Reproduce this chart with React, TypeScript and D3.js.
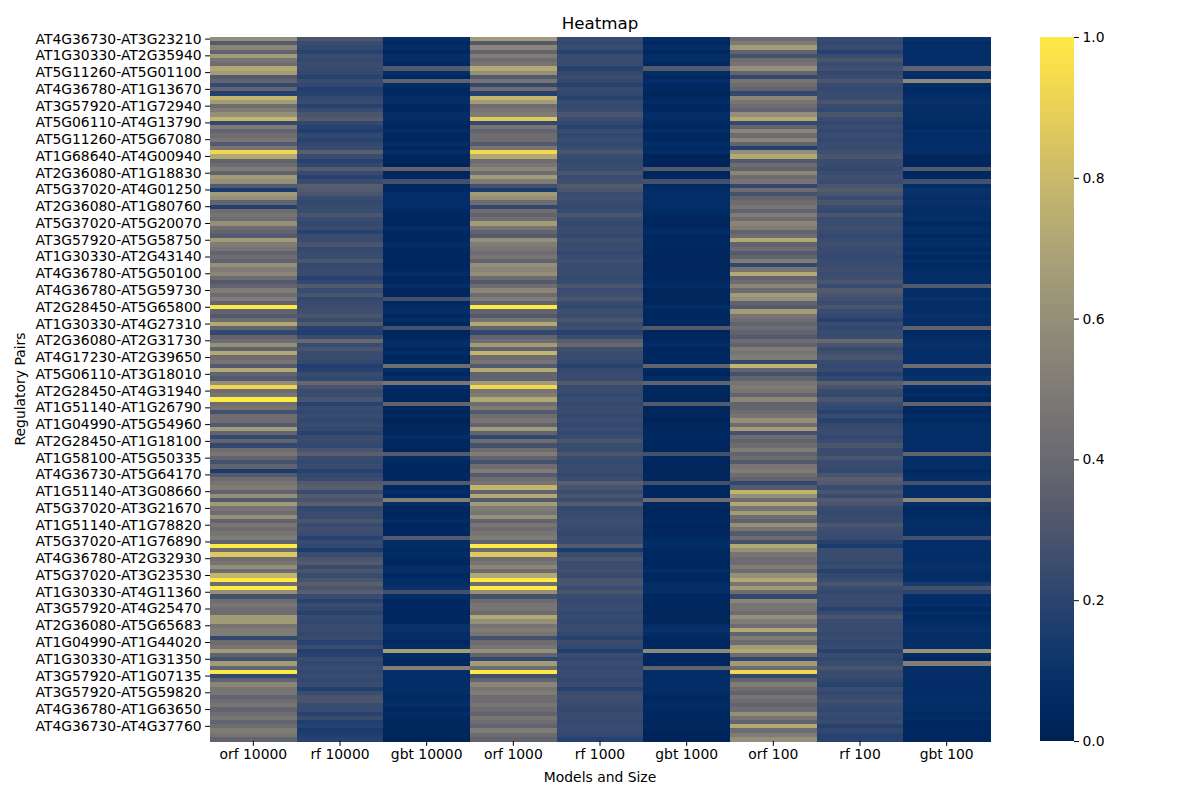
import React, { useEffect, useRef } from "react";
import * as d3 from "d3";

// column names (models and sample size)
const models = ["orf 10000", "rf 10000", "gbt 10000", "orf 1000", "rf 1000", "gbt 1000", "orf 100", "rf 100", "gbt 100"];

// every 4th row carries a label
const pairLabels = [
  "AT4G36730-AT3G23210", "AT1G30330-AT2G35940", "AT5G11260-AT5G01100", "AT4G36780-AT1G13670",
  "AT3G57920-AT1G72940", "AT5G06110-AT4G13790", "AT5G11260-AT5G67080", "AT1G68640-AT4G00940",
  "AT2G36080-AT1G18830", "AT5G37020-AT4G01250", "AT2G36080-AT1G80760", "AT5G37020-AT5G20070",
  "AT3G57920-AT5G58750", "AT1G30330-AT2G43140", "AT4G36780-AT5G50100", "AT4G36780-AT5G59730",
  "AT2G28450-AT5G65800", "AT1G30330-AT4G27310", "AT2G36080-AT2G31730", "AT4G17230-AT2G39650",
  "AT5G06110-AT3G18010", "AT2G28450-AT4G31940", "AT1G51140-AT1G26790", "AT1G04990-AT5G54960",
  "AT2G28450-AT1G18100", "AT1G58100-AT5G50335", "AT4G36730-AT5G64170", "AT1G51140-AT3G08660",
  "AT5G37020-AT3G21670", "AT1G51140-AT1G78820", "AT5G37020-AT1G76890", "AT4G36780-AT2G32930",
  "AT5G37020-AT3G23530", "AT1G30330-AT4G11360", "AT3G57920-AT4G25470", "AT2G36080-AT5G65683",
  "AT1G04990-AT1G44020", "AT1G30330-AT1G31350", "AT3G57920-AT1G07135", "AT3G57920-AT5G59820",
  "AT4G36780-AT1G63650", "AT4G36730-AT4G37760",
];

const orf10000 = [
  0.6,0.32,0.55,0.37,0.66,0.46,0.42,0.72,0.66,0.32,0.37,0.22,0.37,0.18,0.78,0.66,0.42,0.5,0.6,0.78,0.22,0.5,0.37,0.42,0.46,0.32,0.46,0.93,
  0.72,0.37,0.42,0.5,0.37,0.66,0.6,0.32,0.15,0.66,0.6,0.37,0.18,0.42,0.46,0.42,0.6,0.42,0.37,0.32,0.66,0.5,0.46,0.37,0.42,0.37,0.6,0.5,
  0.55,0.42,0.32,0.37,0.5,0.42,0.5,0.37,1.0,0.37,0.32,0.42,0.72,0.37,0.22,0.37,0.42,0.6,0.37,0.72,0.42,0.46,0.32,0.72,0.37,0.32,0.6,0.93,
  0.42,0.46,1.0,0.42,0.46,0.27,0.42,0.42,0.32,0.66,0.37,0.22,0.37,0.22,0.42,0.46,0.37,0.27,0.37,0.15,0.32,0.42,0.46,0.5,0.37,0.6,0.32,0.66,
  0.46,0.42,0.6,0.37,0.46,0.42,0.46,0.5,0.37,1.0,0.42,0.86,0.42,0.46,0.6,0.42,0.78,1.0,0.42,1.0,0.6,0.27,0.42,0.46,0.42,0.42,0.66,0.66,
  0.46,0.5,0.5,0.22,0.42,0.46,0.66,0.37,0.27,0.66,0.37,1.0,0.22,0.37,0.55,0.46,0.46,0.37,0.42,0.46,0.37,0.42,0.46,0.37,0.42,0.5,0.46,0.37,
];
const rf10000 = [
  0.29,0.24,0.22,0.19,0.24,0.22,0.24,0.24,0.22,0.19,0.24,0.22,0.17,0.19,0.22,0.24,0.19,0.24,0.29,0.32,0.22,0.19,0.17,0.22,0.19,0.22,0.24,0.34,
  0.24,0.19,0.22,0.32,0.24,0.19,0.24,0.34,0.32,0.29,0.24,0.22,0.24,0.24,0.29,0.24,0.22,0.24,0.19,0.24,0.24,0.29,0.22,0.24,0.24,0.29,0.22,0.24,
  0.24,0.19,0.22,0.32,0.24,0.29,0.22,0.24,0.24,0.26,0.29,0.24,0.32,0.19,0.17,0.24,0.39,0.24,0.29,0.24,0.24,0.22,0.17,0.19,0.24,0.22,0.39,0.29,
  0.24,0.24,0.29,0.19,0.24,0.22,0.24,0.22,0.24,0.22,0.19,0.24,0.24,0.22,0.29,0.34,0.24,0.22,0.24,0.19,0.22,0.24,0.32,0.34,0.24,0.32,0.29,0.34,
  0.22,0.24,0.24,0.29,0.24,0.26,0.24,0.19,0.24,0.22,0.15,0.24,0.29,0.32,0.24,0.29,0.24,0.29,0.34,0.29,0.34,0.24,0.19,0.24,0.22,0.19,0.24,0.22,
  0.24,0.24,0.22,0.24,0.19,0.24,0.17,0.19,0.24,0.22,0.24,0.22,0.24,0.22,0.24,0.17,0.24,0.29,0.29,0.24,0.24,0.19,0.24,0.17,0.19,0.15,0.17,0.19,
];
const gbt10000 = [
  0.08,0.05,0.07,0.04,0.08,0.07,0.05,0.32,0.08,0.05,0.37,0.07,0.04,0.05,0.07,0.08,0.04,0.05,0.08,0.07,0.05,0.04,0.07,0.04,0.05,0.07,0.05,0.08,
  0.03,0.04,0.02,0.37,0.03,0.04,0.27,0.04,0.05,0.08,0.07,0.08,0.07,0.05,0.05,0.04,0.03,0.07,0.05,0.04,0.04,0.07,0.05,0.04,0.03,0.04,0.03,0.05,
  0.07,0.04,0.05,0.08,0.03,0.04,0.27,0.04,0.07,0.08,0.05,0.07,0.04,0.27,0.03,0.04,0.07,0.08,0.05,0.07,0.04,0.05,0.42,0.07,0.04,0.08,0.47,0.07,
  0.05,0.04,0.03,0.37,0.04,0.03,0.05,0.02,0.03,0.04,0.05,0.07,0.04,0.05,0.03,0.32,0.07,0.05,0.04,0.03,0.05,0.04,0.32,0.05,0.07,0.04,0.52,0.07,
  0.04,0.03,0.04,0.07,0.03,0.05,0.04,0.32,0.07,0.07,0.05,0.07,0.05,0.04,0.07,0.08,0.05,0.07,0.08,0.1,0.27,0.07,0.04,0.05,0.04,0.03,0.05,0.04,
  0.1,0.1,0.07,0.08,0.05,0.07,0.67,0.07,0.05,0.04,0.52,0.08,0.07,0.08,0.07,0.08,0.07,0.05,0.07,0.08,0.05,0.07,0.05,0.04,0.05,0.03,0.03,0.02,
];
const orf1000 = [
  0.66,0.32,0.55,0.37,0.5,0.42,0.46,0.72,0.6,0.32,0.46,0.22,0.42,0.18,0.78,0.66,0.42,0.46,0.5,0.86,0.22,0.46,0.37,0.42,0.42,0.32,0.46,0.93,
  0.72,0.42,0.46,0.55,0.42,0.66,0.5,0.27,0.15,0.66,0.6,0.42,0.22,0.42,0.37,0.42,0.66,0.46,0.37,0.32,0.6,0.5,0.46,0.42,0.46,0.37,0.6,0.55,
  0.6,0.42,0.32,0.42,0.55,0.42,0.5,0.37,1.0,0.37,0.32,0.46,0.72,0.37,0.22,0.37,0.42,0.66,0.37,0.78,0.42,0.46,0.32,0.72,0.37,0.37,0.66,0.93,
  0.46,0.5,0.72,0.42,0.5,0.32,0.42,0.46,0.37,0.66,0.37,0.22,0.42,0.27,0.42,0.5,0.37,0.27,0.42,0.5,0.32,0.42,0.46,0.78,0.37,0.72,0.32,0.66,
  0.5,0.46,0.6,0.37,0.46,0.42,0.46,0.5,0.37,1.0,0.42,0.86,0.42,0.46,0.55,0.42,0.72,1.0,0.42,1.0,0.6,0.27,0.42,0.46,0.46,0.42,0.72,0.6,
  0.46,0.5,0.46,0.27,0.42,0.46,0.6,0.37,0.22,0.66,0.42,1.0,0.27,0.37,0.55,0.46,0.5,0.42,0.42,0.46,0.42,0.37,0.46,0.42,0.37,0.5,0.42,0.37,
];
const rf1000 = [
  0.24,0.22,0.24,0.19,0.24,0.24,0.24,0.19,0.22,0.24,0.22,0.19,0.24,0.22,0.19,0.24,0.22,0.24,0.29,0.24,0.22,0.19,0.24,0.22,0.24,0.22,0.24,0.29,
  0.24,0.22,0.24,0.24,0.29,0.24,0.26,0.32,0.29,0.24,0.26,0.24,0.22,0.24,0.29,0.24,0.22,0.24,0.24,0.22,0.26,0.24,0.24,0.22,0.24,0.26,0.24,0.24,
  0.24,0.22,0.24,0.29,0.24,0.26,0.29,0.24,0.22,0.26,0.24,0.29,0.24,0.26,0.19,0.24,0.34,0.39,0.26,0.24,0.24,0.22,0.19,0.22,0.24,0.24,0.32,0.24,
  0.24,0.22,0.24,0.22,0.24,0.24,0.22,0.24,0.22,0.24,0.22,0.24,0.29,0.24,0.24,0.29,0.24,0.22,0.24,0.24,0.22,0.24,0.34,0.29,0.24,0.29,0.24,0.32,
  0.22,0.24,0.24,0.26,0.24,0.24,0.22,0.24,0.24,0.32,0.15,0.24,0.29,0.24,0.24,0.26,0.24,0.29,0.29,0.24,0.29,0.24,0.22,0.24,0.24,0.22,0.24,0.22,
  0.24,0.24,0.22,0.19,0.24,0.22,0.17,0.24,0.22,0.24,0.22,0.24,0.24,0.22,0.24,0.19,0.24,0.26,0.24,0.24,0.22,0.24,0.24,0.22,0.24,0.24,0.22,0.19,
];
const gbt1000 = [
  0.07,0.04,0.08,0.05,0.07,0.07,0.05,0.32,0.07,0.04,0.08,0.04,0.05,0.03,0.05,0.07,0.04,0.05,0.08,0.07,0.05,0.04,0.07,0.04,0.05,0.07,0.05,0.07,
  0.02,0.03,0.02,0.32,0.03,0.04,0.27,0.05,0.07,0.08,0.07,0.08,0.07,0.07,0.05,0.04,0.03,0.05,0.07,0.04,0.04,0.05,0.04,0.05,0.03,0.04,0.03,0.04,
  0.05,0.04,0.05,0.07,0.03,0.03,0.04,0.03,0.07,0.05,0.04,0.05,0.03,0.32,0.03,0.04,0.05,0.07,0.04,0.05,0.04,0.04,0.37,0.05,0.03,0.07,0.37,0.05,
  0.04,0.03,0.03,0.32,0.03,0.03,0.04,0.02,0.03,0.04,0.05,0.05,0.04,0.04,0.03,0.27,0.05,0.04,0.03,0.03,0.04,0.03,0.27,0.04,0.05,0.04,0.42,0.05,
  0.03,0.03,0.04,0.05,0.03,0.04,0.03,0.05,0.07,0.07,0.05,0.05,0.04,0.04,0.05,0.07,0.05,0.05,0.07,0.08,0.08,0.05,0.04,0.03,0.04,0.03,0.04,0.03,
  0.08,0.1,0.07,0.05,0.04,0.05,0.57,0.05,0.04,0.03,0.37,0.07,0.07,0.08,0.07,0.08,0.07,0.05,0.05,0.07,0.05,0.04,0.05,0.03,0.04,0.03,0.02,0.02,
];
const orf100 = [
  0.42,0.5,0.66,0.37,0.27,0.42,0.46,0.6,0.37,0.22,0.46,0.42,0.37,0.22,0.55,0.46,0.42,0.37,0.6,0.72,0.22,0.37,0.55,0.42,0.55,0.37,0.18,0.6,
  0.72,0.32,0.42,0.37,0.55,0.42,0.46,0.22,0.42,0.27,0.37,0.42,0.46,0.37,0.5,0.42,0.55,0.5,0.37,0.42,0.72,0.37,0.42,0.32,0.37,0.5,0.22,0.46,
  0.72,0.37,0.42,0.55,0.42,0.66,0.6,0.37,0.32,0.66,0.46,0.42,0.37,0.42,0.37,0.32,0.42,0.37,0.5,0.46,0.5,0.22,0.78,0.37,0.27,0.37,0.46,0.5,
  0.46,0.37,0.55,0.37,0.37,0.42,0.46,0.6,0.42,0.66,0.27,0.42,0.37,0.42,0.5,0.37,0.42,0.32,0.46,0.5,0.42,0.37,0.22,0.32,0.78,0.6,0.42,0.72,
  0.46,0.66,0.42,0.37,0.6,0.46,0.32,0.42,0.27,0.72,0.6,0.46,0.42,0.42,0.5,0.42,0.6,0.72,0.46,0.66,0.42,0.22,0.55,0.46,0.46,0.42,0.6,0.5,
  0.42,0.72,0.37,0.5,0.42,0.66,0.72,0.42,0.22,0.66,0.42,0.93,0.22,0.37,0.5,0.42,0.37,0.46,0.42,0.37,0.42,0.6,0.46,0.37,0.72,0.42,0.5,0.6,
];
const rf100 = [
  0.24,0.22,0.24,0.19,0.24,0.29,0.24,0.26,0.22,0.24,0.29,0.24,0.22,0.24,0.24,0.29,0.24,0.22,0.29,0.24,0.22,0.24,0.22,0.24,0.22,0.24,0.24,0.26,
  0.29,0.24,0.24,0.22,0.24,0.26,0.24,0.29,0.32,0.29,0.24,0.29,0.24,0.22,0.29,0.24,0.24,0.26,0.24,0.22,0.24,0.26,0.24,0.24,0.22,0.24,0.24,0.26,
  0.24,0.26,0.29,0.24,0.32,0.29,0.26,0.24,0.29,0.24,0.22,0.19,0.24,0.22,0.24,0.24,0.39,0.29,0.24,0.26,0.29,0.24,0.22,0.24,0.19,0.22,0.34,0.29,
  0.24,0.22,0.29,0.24,0.22,0.19,0.24,0.19,0.22,0.24,0.24,0.22,0.24,0.29,0.24,0.24,0.29,0.24,0.24,0.22,0.29,0.34,0.32,0.24,0.29,0.24,0.32,0.29,
  0.24,0.22,0.24,0.24,0.29,0.26,0.24,0.24,0.19,0.15,0.24,0.24,0.24,0.22,0.24,0.19,0.22,0.24,0.29,0.24,0.22,0.24,0.24,0.24,0.19,0.24,0.29,0.24,
  0.24,0.24,0.22,0.24,0.22,0.24,0.19,0.24,0.22,0.24,0.29,0.24,0.24,0.22,0.19,0.24,0.22,0.24,0.26,0.24,0.22,0.24,0.22,0.24,0.19,0.22,0.19,0.19,
];
const gbt100 = [
  0.1,0.07,0.08,0.07,0.08,0.07,0.08,0.37,0.08,0.07,0.57,0.07,0.05,0.07,0.08,0.1,0.07,0.08,0.07,0.08,0.07,0.05,0.08,0.07,0.07,0.08,0.07,0.08,
  0.03,0.04,0.03,0.32,0.04,0.05,0.27,0.07,0.1,0.1,0.08,0.1,0.08,0.07,0.07,0.08,0.05,0.07,0.08,0.05,0.07,0.08,0.05,0.07,0.05,0.07,0.05,0.07,
  0.08,0.07,0.08,0.32,0.08,0.07,0.1,0.08,0.07,0.08,0.1,0.08,0.07,0.37,0.05,0.07,0.08,0.1,0.08,0.07,0.08,0.07,0.42,0.08,0.07,0.1,0.42,0.07,
  0.05,0.07,0.03,0.37,0.04,0.05,0.07,0.05,0.07,0.08,0.07,0.08,0.07,0.08,0.07,0.37,0.08,0.07,0.08,0.05,0.07,0.08,0.27,0.07,0.08,0.07,0.57,0.08,
  0.05,0.05,0.07,0.08,0.07,0.08,0.07,0.27,0.08,0.07,0.08,0.07,0.07,0.08,0.1,0.08,0.07,0.08,0.15,0.27,0.2,0.08,0.07,0.08,0.05,0.07,0.05,0.07,
  0.08,0.1,0.08,0.07,0.08,0.07,0.62,0.07,0.05,0.52,0.07,0.08,0.08,0.08,0.07,0.08,0.07,0.07,0.08,0.07,0.07,0.05,0.07,0.05,0.04,0.05,0.04,0.03,
];

const series = [orf10000, rf10000, gbt10000, orf1000, rf1000, gbt1000, orf100, rf100, gbt100];
const colorTicks = [0, 0.2, 0.4, 0.6, 0.8, 1.0];
const labelEvery = 4;

const Heatmap: React.FC = () => {
  const svgRef = useRef<SVGSVGElement>(null);

  useEffect(() => {
    if (!svgRef.current) return;
    const width = 1200;
    const height = 800;
    const margin = { top: 37, left: 210, right: 210, bottom: 59 };
    const font = "DejaVu Sans, sans-serif";

    const svg = d3.select(svgRef.current);
    svg.selectAll("*").remove();
    svg.attr("width", width).attr("height", height).style("font-family", font);
    svg.append("rect").attr("width", width).attr("height", height).attr("fill", "white");

    const nRows = orf10000.length;
    const innerW = width - margin.left - margin.right;
    const innerH = height - margin.top - margin.bottom;

    const x = d3.scaleBand<string>().domain(models).range([margin.left, margin.left + innerW]);
    const y = d3.scaleBand<number>().domain(d3.range(nRows)).range([margin.top, margin.top + innerH]);
    const color = d3.scaleSequential(d3.interpolateCividis).domain([0, 1]);

    // cells
    const g = svg.append("g").attr("shape-rendering", "crispEdges");
    series.forEach((vals, ci) => {
      g.selectAll(null)
        .data(vals)
        .enter()
        .append("rect")
        .attr("x", x(models[ci]) as number)
        .attr("y", (_, i) => y(i) as number)
        .attr("width", x.bandwidth() + 0.5)
        .attr("height", y.bandwidth() + 0.5)
        .attr("fill", (d) => color(d));
    });

    // x axis
    const xAxis = d3.axisBottom(x).tickSize(4.9).tickPadding(3.5);
    const xg = svg.append("g").attr("transform", `translate(0,${margin.top + innerH})`).call(xAxis);
    xg.select(".domain").remove();
    xg.selectAll("text").style("font-size", "13.9px").style("font-family", font).attr("fill", "#000");

    // y axis, labelled every few rows
    const labelled = d3.range(0, nRows, labelEvery);
    const yAxis = d3
      .axisLeft(y)
      .tickValues(labelled)
      .tickFormat((d) => pairLabels[(d as number) / labelEvery] ?? "")
      .tickSize(4.9)
      .tickPadding(3.5);
    const yg = svg.append("g").attr("transform", `translate(${margin.left},0)`).call(yAxis);
    yg.select(".domain").remove();
    yg.selectAll("text").style("font-size", "13.9px").style("font-family", font).attr("fill", "#000");

    // labels
    svg.append("text").attr("x", margin.left + innerW / 2).attr("y", 29)
      .attr("text-anchor", "middle").style("font-size", "16.7px").text("Heatmap");
    svg.append("text").attr("x", margin.left + innerW / 2).attr("y", 782)
      .attr("text-anchor", "middle").style("font-size", "13.9px").text("Models and Size");
    svg.append("text").attr("transform", `translate(25,${margin.top + innerH / 2}) rotate(-90)`)
      .attr("text-anchor", "middle").style("font-size", "13.9px").text("Regulatory Pairs");

    // colorbar
    const cbX = 1040;
    const cbW = 34;
    const defs = svg.append("defs");
    const grad = defs.append("linearGradient").attr("id", "cbar").attr("x1", 0).attr("y1", 1).attr("x2", 0).attr("y2", 0);
    d3.range(0, 1.0001, 0.05).forEach((t) => {
      grad.append("stop").attr("offset", t).attr("stop-color", color(t));
    });
    svg.append("rect").attr("x", cbX).attr("y", margin.top).attr("width", cbW).attr("height", innerH).attr("fill", "url(#cbar)");
    const cScale = d3.scaleLinear().domain([0, 1]).range([margin.top + innerH, margin.top]);
    const cg = svg.append("g").attr("transform", `translate(${cbX + cbW},0)`)
      .call(d3.axisRight(cScale).tickValues(colorTicks).tickFormat(d3.format(".1f")).tickSize(4.9).tickPadding(3.5));
    cg.select(".domain").remove();
    cg.selectAll("text").style("font-size", "13.9px").style("font-family", font).attr("fill", "#000");
  }, []);

  return <svg ref={svgRef} />;
};

export default function App() {
  return (
    <div style={{ position: "absolute", left: 0, top: 0 }}>
      <Heatmap />
    </div>
  );
}
